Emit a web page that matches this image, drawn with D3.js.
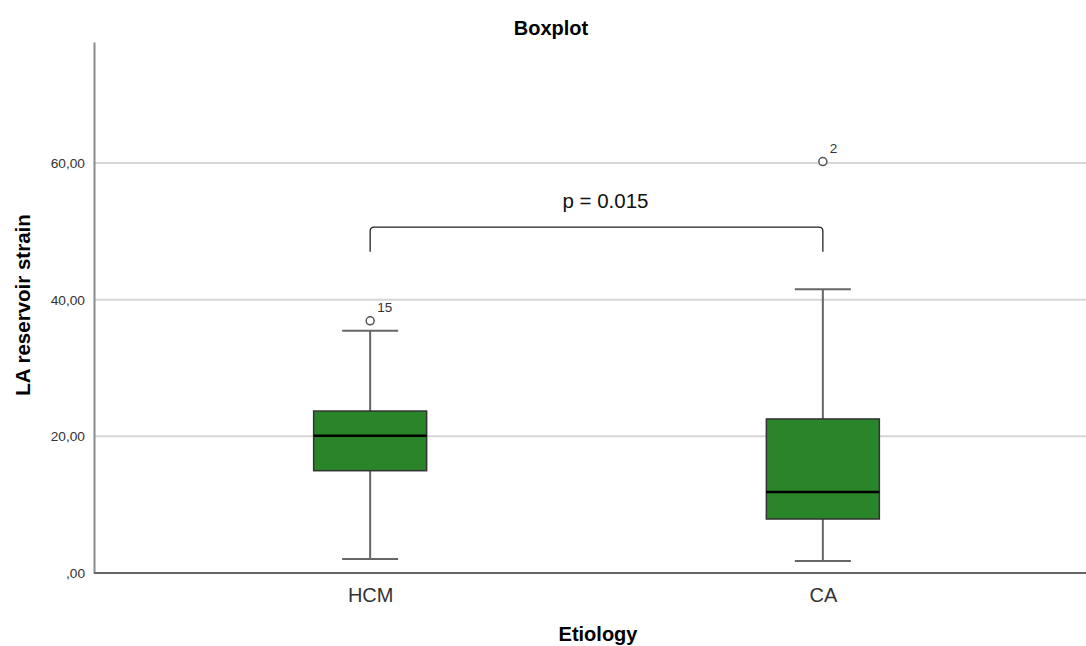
<!DOCTYPE html>
<html>
<head>
<meta charset="utf-8">
<script src="https://cdn.jsdelivr.net/npm/d3@7"></script>
<style>
  body { margin: 0; background: #fff; }
  svg { display: block; font-family: Arial, "Liberation Sans", sans-serif; }
</style>
</head>
<body>
<svg id="chart" width="1086" height="646"></svg>
<script>
// data
var categories = ["HCM", "CA"];
var q1 = [14.97, 7.9];
var medians = [20.09, 11.85];
var q3 = [23.7, 22.54];
var whiskerLow = [2.05, 1.76];
var whiskerHigh = [35.46, 41.52];
var outliers = [{ cat: "HCM", value: 36.9, label: "15" }, { cat: "CA", value: 60.2, label: "2" }];
var yTicks = [0, 20, 40, 60];
var pText = "p = 0.015";
var bracket = { from: "HCM", to: "CA", top: 50.6, bottom: 47.0 };

var svg = d3.select("#chart"),
    margin = { top: 42, right: 0, bottom: 73, left: 94 },
    width = +svg.attr("width") - margin.left - margin.right,
    height = +svg.attr("height") - margin.top - margin.bottom;

var g = svg.append("g").attr("transform", "translate(" + margin.left + "," + margin.top + ")");

var x = d3.scalePoint().domain(categories).range([0, width + 13]).padding(0.61);
var y = d3.scaleLinear().domain([0, 77.7]).range([height, 0]);
var boxW = 113, capW = 56;

// gridlines
g.append("g")
  .selectAll("line")
  .data(yTicks.filter(function(d) { return d > 0; }))
  .enter().append("line")
    .attr("x1", 0).attr("x2", width)
    .attr("y1", function(d) { return y(d); })
    .attr("y2", function(d) { return y(d); })
    .attr("stroke", "#d6d6d6")
    .attr("stroke-width", 2);

// y axis
var yAxis = g.append("g")
    .call(d3.axisLeft(y).tickValues(yTicks).tickSize(0).tickPadding(9)
      .tickFormat(function(d) { return d === 0 ? ",00" : d + ",00"; }));
yAxis.select(".domain").attr("stroke", "#8a8a8a").attr("stroke-width", 2);
yAxis.selectAll("text").attr("font-size", 13.7).attr("fill", "#333");

// x axis
var xAxis = g.append("g")
    .attr("transform", "translate(0," + height + ")")
    .call(d3.axisBottom(x).tickSize(0).tickPadding(15));
xAxis.select(".domain").attr("d", "M0,0H" + width).attr("stroke", "#666").attr("stroke-width", 2);
xAxis.selectAll("text").attr("font-size", 20).attr("fill", "#333");

var boxes = g.append("g")
  .selectAll("g")
  .data(categories)
  .enter().append("g");

// whiskers
boxes.append("line")
    .attr("x1", function(d) { return x(d); })
    .attr("x2", function(d) { return x(d); })
    .attr("y1", function(d, i) { return y(whiskerLow[i]); })
    .attr("y2", function(d, i) { return y(whiskerHigh[i]); })
    .attr("stroke", "#666").attr("stroke-width", 2);

boxes.selectAll(".cap")
  .data(function(d, i) { return [{ c: d, v: whiskerLow[i] }, { c: d, v: whiskerHigh[i] }]; })
  .enter().append("line")
    .attr("class", "cap")
    .attr("x1", function(d) { return x(d.c) - capW / 2; })
    .attr("x2", function(d) { return x(d.c) + capW / 2; })
    .attr("y1", function(d) { return y(d.v); })
    .attr("y2", function(d) { return y(d.v); })
    .attr("stroke", "#666").attr("stroke-width", 2);

boxes.append("rect")
    .attr("x", function(d) { return x(d) - boxW / 2; })
    .attr("width", boxW)
    .attr("y", function(d, i) { return y(q3[i]); })
    .attr("height", function(d, i) { return y(q1[i]) - y(q3[i]); })
    .attr("fill", "#2a8429")
    .attr("stroke", "#333").attr("stroke-width", 1.5);

boxes.append("line")
    .attr("x1", function(d) { return x(d) - boxW / 2; })
    .attr("x2", function(d) { return x(d) + boxW / 2; })
    .attr("y1", function(d, i) { return y(medians[i]); })
    .attr("y2", function(d, i) { return y(medians[i]); })
    .attr("stroke", "#000").attr("stroke-width", 2.5);

// outliers
var out = g.append("g").selectAll("g").data(outliers).enter().append("g");
out.append("circle")
    .attr("cx", function(d) { return x(d.cat); })
    .attr("cy", function(d) { return y(d.value); })
    .attr("r", 4)
    .attr("fill", "#fff").attr("stroke", "#555").attr("stroke-width", 1.5);
out.append("text")
    .attr("x", function(d) { return x(d.cat) + 7; })
    .attr("y", function(d) { return y(d.value) - 9; })
    .attr("font-size", 13.5).attr("fill", "#333")
    .text(function(d) { return d.label; });

// significance bracket
var bx1 = x(bracket.from), bx2 = x(bracket.to), byT = y(bracket.top), byB = y(bracket.bottom), r = 4;
g.append("path")
    .attr("d", "M" + bx1 + "," + byB + "V" + (byT + r) + "Q" + bx1 + "," + byT + " " + (bx1 + r) + "," + byT +
      "H" + (bx2 - r) + "Q" + bx2 + "," + byT + " " + bx2 + "," + (byT + r) + "V" + byB)
    .attr("fill", "none").attr("stroke", "#222").attr("stroke-width", 1.3);
g.append("text")
    .attr("x", (bx1 + bx2) / 2 + 9)
    .attr("y", byT - 19)
    .attr("text-anchor", "middle")
    .attr("font-size", 20.5).attr("fill", "#111")
    .text(pText);

// titles
svg.append("text")
    .attr("x", 551).attr("y", 35)
    .attr("text-anchor", "middle")
    .attr("font-size", 20).attr("font-weight", "bold")
    .text("Boxplot");

svg.append("text")
    .attr("transform", "translate(30,305) rotate(-90)")
    .attr("text-anchor", "middle")
    .attr("font-size", 20.5).attr("font-weight", "bold")
    .text("LA reservoir strain");

svg.append("text")
    .attr("x", 598).attr("y", 641)
    .attr("text-anchor", "middle")
    .attr("font-size", 20).attr("font-weight", "bold")
    .text("Etiology");
</script>
</body>
</html>
